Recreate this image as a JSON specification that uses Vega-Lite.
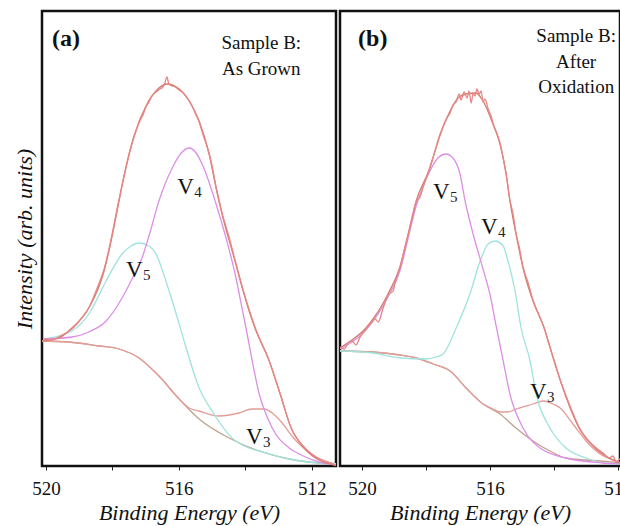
{
  "$schema": "https://vega.github.io/schema/vega-lite/v6.json",
  "padding": {"left": 11, "top": 9, "right": 0, "bottom": 0},
  "background": "white",
  "spacing": 0,
  "config": {
    "view": {"stroke": "#111", "strokeWidth": 2.5},
    "axis": {"grid": false, "domain": false, "tickColor": "#222", "tickSize": 4, "tickWidth": 1,
      "labelFont": "Liberation Serif", "labelFontSize": 19, "labelColor": "#111",
      "titleFont": "Liberation Serif", "titleFontStyle": "italic", "titleFontWeight": "normal", "titleFontSize": 22, "titleColor": "#111"},
    "axisX": {"labelPadding": 9, "titlePadding": 4, "labelFlush": false},
    "axisY": {"titlePadding": 6}
  },
  "datasets": {
    "a": [
      {"c":"bg","e":520.12,"v":125},{"c":"bg","e":519.31,"v":124},{"c":"bg","e":518.40,"v":120},{"c":"bg","e":517.80,"v":117},{"c":"bg","e":517.20,"v":108},{"c":"bg","e":516.60,"v":90},{"c":"bg","e":515.99,"v":67},{"c":"bg","e":515.39,"v":47},{"c":"bg","e":514.49,"v":28},{"c":"bg","e":513.58,"v":15},{"c":"bg","e":512.68,"v":7},{"c":"bg","e":511.78,"v":3},{"c":"bg","e":511.27,"v":2},
      {"c":"V3","e":520.12,"v":125},{"c":"V3","e":519.31,"v":124},{"c":"V3","e":518.40,"v":120},{"c":"V3","e":517.80,"v":117},{"c":"V3","e":517.20,"v":108},{"c":"V3","e":516.60,"v":90},{"c":"V3","e":515.99,"v":67},{"c":"V3","e":515.69,"v":58},{"c":"V3","e":515.39,"v":55},{"c":"V3","e":514.79,"v":50},{"c":"V3","e":514.19,"v":53},{"c":"V3","e":513.80,"v":57},{"c":"V3","e":513.43,"v":57},{"c":"V3","e":513.19,"v":53},{"c":"V3","e":512.89,"v":43},{"c":"V3","e":512.62,"v":31},{"c":"V3","e":512.38,"v":22},{"c":"V3","e":511.87,"v":9},{"c":"V3","e":511.27,"v":2},
      {"c":"V5","e":520.06,"v":127},{"c":"V5","e":519.22,"v":135},{"c":"V5","e":518.71,"v":152},{"c":"V5","e":518.19,"v":185},{"c":"V5","e":517.71,"v":212},{"c":"V5","e":517.44,"v":220},{"c":"V5","e":517.20,"v":223},{"c":"V5","e":516.90,"v":220},{"c":"V5","e":516.69,"v":212},{"c":"V5","e":516.39,"v":185},{"c":"V5","e":516.08,"v":152},{"c":"V5","e":515.78,"v":118},{"c":"V5","e":515.39,"v":78},{"c":"V5","e":515.00,"v":55},{"c":"V5","e":514.40,"v":28},{"c":"V5","e":513.89,"v":18},{"c":"V5","e":513.58,"v":15},{"c":"V5","e":512.68,"v":7},{"c":"V5","e":511.78,"v":3},{"c":"V5","e":511.27,"v":2},
      {"c":"V4","e":520.06,"v":127},{"c":"V4","e":519.22,"v":129},{"c":"V4","e":518.71,"v":134},{"c":"V4","e":518.19,"v":145},{"c":"V4","e":517.71,"v":168},{"c":"V4","e":517.41,"v":187},{"c":"V4","e":517.11,"v":208},{"c":"V4","e":516.90,"v":230},{"c":"V4","e":516.60,"v":265},{"c":"V4","e":516.20,"v":298},{"c":"V4","e":515.93,"v":313},{"c":"V4","e":515.69,"v":318},{"c":"V4","e":515.48,"v":313},{"c":"V4","e":515.30,"v":302},{"c":"V4","e":514.88,"v":262},{"c":"V4","e":514.58,"v":228},{"c":"V4","e":514.28,"v":188},{"c":"V4","e":514.10,"v":158},{"c":"V4","e":513.98,"v":138},{"c":"V4","e":513.58,"v":72},{"c":"V4","e":513.19,"v":38},{"c":"V4","e":512.68,"v":18},{"c":"V4","e":512.38,"v":12},{"c":"V4","e":511.78,"v":4},{"c":"V4","e":511.27,"v":1},
      {"c":"fit","e":520.12,"v":125},{"c":"fit","e":519.61,"v":128},{"c":"fit","e":519.22,"v":138},{"c":"fit","e":518.71,"v":158},{"c":"fit","e":518.25,"v":195},{"c":"fit","e":518.04,"v":225},{"c":"fit","e":517.83,"v":260},{"c":"fit","e":517.62,"v":295},{"c":"fit","e":517.35,"v":330},{"c":"fit","e":516.99,"v":360},{"c":"fit","e":516.69,"v":375},{"c":"fit","e":516.36,"v":382},{"c":"fit","e":515.99,"v":377},{"c":"fit","e":515.69,"v":365},{"c":"fit","e":515.39,"v":345},{"c":"fit","e":515.09,"v":312},{"c":"fit","e":514.88,"v":278},{"c":"fit","e":514.70,"v":252},{"c":"fit","e":514.31,"v":205},{"c":"fit","e":514.04,"v":172},{"c":"fit","e":513.71,"v":138},{"c":"fit","e":513.28,"v":105},{"c":"fit","e":512.95,"v":72},{"c":"fit","e":512.62,"v":38},{"c":"fit","e":512.23,"v":18},{"c":"fit","e":511.72,"v":5},{"c":"fit","e":511.27,"v":1},
      {"c":"data","e":520.12,"v":124},{"c":"data","e":520.00,"v":127},{"c":"data","e":519.85,"v":126},{"c":"data","e":519.67,"v":128},{"c":"data","e":519.46,"v":132},{"c":"data","e":519.22,"v":137},{"c":"data","e":518.95,"v":147},{"c":"data","e":518.70,"v":159},{"c":"data","e":518.46,"v":178},{"c":"data","e":518.25,"v":197},{"c":"data","e":518.04,"v":227},{"c":"data","e":517.83,"v":262},{"c":"data","e":517.62,"v":294},{"c":"data","e":517.47,"v":315},{"c":"data","e":517.35,"v":329},{"c":"data","e":517.20,"v":343},{"c":"data","e":517.08,"v":351},{"c":"data","e":516.99,"v":359},{"c":"data","e":516.90,"v":364},{"c":"data","e":516.81,"v":370},{"c":"data","e":516.69,"v":374},{"c":"data","e":516.57,"v":377},{"c":"data","e":516.48,"v":379},{"c":"data","e":516.42,"v":383},{"c":"data","e":516.36,"v":389},{"c":"data","e":516.30,"v":382},{"c":"data","e":516.20,"v":380},{"c":"data","e":516.11,"v":379},{"c":"data","e":515.99,"v":376},{"c":"data","e":515.87,"v":373},{"c":"data","e":515.75,"v":368},{"c":"data","e":515.63,"v":362},{"c":"data","e":515.51,"v":353},{"c":"data","e":515.39,"v":344},{"c":"data","e":515.27,"v":331},{"c":"data","e":515.09,"v":313},{"c":"data","e":514.97,"v":295},{"c":"data","e":514.88,"v":279},{"c":"data","e":514.70,"v":253},{"c":"data","e":514.49,"v":229},{"c":"data","e":514.31,"v":206},{"c":"data","e":514.04,"v":173},{"c":"data","e":513.71,"v":139},{"c":"data","e":513.28,"v":105},{"c":"data","e":512.95,"v":72},{"c":"data","e":512.62,"v":38},{"c":"data","e":512.23,"v":19},{"c":"data","e":511.72,"v":6},{"c":"data","e":511.27,"v":1}
    ],
    "b": [
      {"c":"bg","e":520.69,"v":115},{"c":"bg","e":519.66,"v":114},{"c":"bg","e":518.81,"v":111},{"c":"bg","e":518.31,"v":108},{"c":"bg","e":517.78,"v":102},{"c":"bg","e":517.25,"v":95},{"c":"bg","e":516.75,"v":78},{"c":"bg","e":516.22,"v":62},{"c":"bg","e":515.69,"v":52},{"c":"bg","e":515.19,"v":38},{"c":"bg","e":514.66,"v":25},{"c":"bg","e":514.13,"v":15},{"c":"bg","e":513.63,"v":8},{"c":"bg","e":512.56,"v":5},{"c":"bg","e":511.84,"v":3},
      {"c":"V3","e":520.69,"v":115},{"c":"V3","e":519.66,"v":114},{"c":"V3","e":518.81,"v":111},{"c":"V3","e":518.31,"v":108},{"c":"V3","e":517.78,"v":102},{"c":"V3","e":517.25,"v":95},{"c":"V3","e":516.75,"v":78},{"c":"V3","e":516.22,"v":62},{"c":"V3","e":515.91,"v":57},{"c":"V3","e":515.69,"v":54},{"c":"V3","e":515.44,"v":54},{"c":"V3","e":515.19,"v":57},{"c":"V3","e":514.66,"v":62},{"c":"V3","e":514.34,"v":65},{"c":"V3","e":514.03,"v":62},{"c":"V3","e":513.81,"v":58},{"c":"V3","e":513.41,"v":42},{"c":"V3","e":513.00,"v":25},{"c":"V3","e":512.56,"v":12},{"c":"V3","e":512.06,"v":5},{"c":"V3","e":511.84,"v":3},
      {"c":"V4","e":520.69,"v":115},{"c":"V4","e":519.66,"v":113},{"c":"V4","e":518.81,"v":108},{"c":"V4","e":518.00,"v":107},{"c":"V4","e":517.69,"v":109},{"c":"V4","e":517.47,"v":112},{"c":"V4","e":517.06,"v":138},{"c":"V4","e":516.63,"v":172},{"c":"V4","e":516.31,"v":205},{"c":"V4","e":516.06,"v":222},{"c":"V4","e":515.84,"v":225},{"c":"V4","e":515.59,"v":220},{"c":"V4","e":515.44,"v":205},{"c":"V4","e":515.22,"v":175},{"c":"V4","e":515.03,"v":138},{"c":"V4","e":514.75,"v":105},{"c":"V4","e":514.56,"v":72},{"c":"V4","e":514.13,"v":38},{"c":"V4","e":513.63,"v":18},{"c":"V4","e":513.00,"v":8},{"c":"V4","e":512.16,"v":2},{"c":"V4","e":511.84,"v":2},
      {"c":"V5","e":520.69,"v":117},{"c":"V5","e":519.88,"v":136},{"c":"V5","e":519.19,"v":169},{"c":"V5","e":518.81,"v":196},{"c":"V5","e":518.56,"v":228},{"c":"V5","e":518.31,"v":260},{"c":"V5","e":518.09,"v":280},{"c":"V5","e":517.88,"v":295},{"c":"V5","e":517.63,"v":308},{"c":"V5","e":517.38,"v":312},{"c":"V5","e":517.16,"v":308},{"c":"V5","e":516.94,"v":292},{"c":"V5","e":516.78,"v":265},{"c":"V5","e":516.53,"v":232},{"c":"V5","e":516.22,"v":197},{"c":"V5","e":516.00,"v":171},{"c":"V5","e":515.81,"v":140},{"c":"V5","e":515.59,"v":105},{"c":"V5","e":515.38,"v":72},{"c":"V5","e":514.97,"v":38},{"c":"V5","e":514.44,"v":18},{"c":"V5","e":513.63,"v":8},{"c":"V5","e":512.47,"v":3},{"c":"V5","e":511.84,"v":2},
      {"c":"fit","e":520.69,"v":118},{"c":"fit","e":520.50,"v":122},{"c":"fit","e":519.88,"v":138},{"c":"fit","e":519.19,"v":172},{"c":"fit","e":518.81,"v":200},{"c":"fit","e":518.56,"v":232},{"c":"fit","e":518.31,"v":265},{"c":"fit","e":517.88,"v":298},{"c":"fit","e":517.56,"v":332},{"c":"fit","e":517.25,"v":355},{"c":"fit","e":517.00,"v":368},{"c":"fit","e":516.75,"v":372},{"c":"fit","e":516.44,"v":373},{"c":"fit","e":516.22,"v":365},{"c":"fit","e":515.91,"v":342},{"c":"fit","e":515.69,"v":322},{"c":"fit","e":515.50,"v":292},{"c":"fit","e":515.38,"v":265},{"c":"fit","e":515.19,"v":232},{"c":"fit","e":514.97,"v":198},{"c":"fit","e":514.66,"v":165},{"c":"fit","e":514.31,"v":138},{"c":"fit","e":514.00,"v":105},{"c":"fit","e":513.66,"v":72},{"c":"fit","e":513.22,"v":38},{"c":"fit","e":512.72,"v":18},{"c":"fit","e":512.09,"v":5},{"c":"fit","e":511.84,"v":2},
      {"c":"data","e":520.69,"v":119},{"c":"data","e":520.56,"v":117},{"c":"data","e":520.44,"v":123},{"c":"data","e":520.31,"v":125},{"c":"data","e":520.19,"v":121},{"c":"data","e":520.06,"v":129},{"c":"data","e":519.88,"v":137},{"c":"data","e":519.72,"v":143},{"c":"data","e":519.59,"v":147},{"c":"data","e":519.50,"v":144},{"c":"data","e":519.34,"v":158},{"c":"data","e":519.19,"v":171},{"c":"data","e":519.03,"v":175},{"c":"data","e":518.97,"v":183},{"c":"data","e":518.81,"v":199},{"c":"data","e":518.69,"v":215},{"c":"data","e":518.56,"v":231},{"c":"data","e":518.44,"v":247},{"c":"data","e":518.31,"v":264},{"c":"data","e":518.19,"v":269},{"c":"data","e":518.09,"v":279},{"c":"data","e":517.88,"v":299},{"c":"data","e":517.72,"v":315},{"c":"data","e":517.56,"v":331},{"c":"data","e":517.47,"v":339},{"c":"data","e":517.34,"v":348},{"c":"data","e":517.25,"v":353},{"c":"data","e":517.16,"v":361},{"c":"data","e":517.06,"v":364},{"c":"data","e":516.97,"v":372},{"c":"data","e":516.91,"v":366},{"c":"data","e":516.81,"v":374},{"c":"data","e":516.72,"v":368},{"c":"data","e":516.66,"v":375},{"c":"data","e":516.59,"v":363},{"c":"data","e":516.53,"v":373},{"c":"data","e":516.47,"v":370},{"c":"data","e":516.41,"v":377},{"c":"data","e":516.34,"v":372},{"c":"data","e":516.28,"v":375},{"c":"data","e":516.22,"v":364},{"c":"data","e":516.16,"v":367},{"c":"data","e":516.06,"v":357},{"c":"data","e":515.97,"v":350},{"c":"data","e":515.91,"v":343},{"c":"data","e":515.78,"v":332},{"c":"data","e":515.69,"v":323},{"c":"data","e":515.59,"v":308},{"c":"data","e":515.50,"v":293},{"c":"data","e":515.38,"v":266},{"c":"data","e":515.28,"v":252},{"c":"data","e":515.19,"v":233},{"c":"data","e":515.09,"v":219},{"c":"data","e":514.97,"v":199},{"c":"data","e":514.81,"v":183},{"c":"data","e":514.66,"v":166},{"c":"data","e":514.47,"v":151},{"c":"data","e":514.31,"v":138},{"c":"data","e":514.16,"v":122},{"c":"data","e":514.00,"v":106},{"c":"data","e":513.84,"v":89},{"c":"data","e":513.66,"v":73},{"c":"data","e":513.44,"v":55},{"c":"data","e":513.22,"v":39},{"c":"data","e":512.97,"v":27},{"c":"data","e":512.72,"v":19},{"c":"data","e":512.47,"v":13},{"c":"data","e":512.28,"v":8},{"c":"data","e":512.16,"v":10},{"c":"data","e":512.06,"v":4},{"c":"data","e":511.94,"v":7},{"c":"data","e":511.84,"v":2}
    ],
    "ta": [
      {"k":"tag","t":"(a)","e":519.82,"v":420},
      {"k":"note","t":"Sample B:","e":513.52,"v":417},
      {"k":"note","t":"As Grown","e":513.52,"v":391},
      {"k":"comp","t":"V","s":"4","e":516.05,"v":272},
      {"k":"comp","t":"V","s":"5","e":517.59,"v":189},
      {"k":"comp","t":"V","s":"3","e":513.98,"v":22}
    ],
    "tb": [
      {"k":"tag","t":"(b)","e":520.125,"v":420},
      {"k":"note","t":"Sample B:","e":513.31,"v":424},
      {"k":"note","t":"After","e":513.31,"v":398},
      {"k":"note","t":"Oxidation","e":513.31,"v":373},
      {"k":"comp","t":"V","s":"5","e":517.78,"v":267},
      {"k":"comp","t":"V","s":"4","e":516.28,"v":232},
      {"k":"comp","t":"V","s":"3","e":514.75,"v":67}
    ]
  },
  "resolve": {"scale": {"x": "independent", "y": "independent", "color": "independent", "strokeWidth": "independent"}},
  "hconcat": [
    {
      "width": 294, "height": 455,
      "layer": [
        {
          "data": {"name": "a"},
          "mark": {"type": "line", "clip": true, "interpolate": "monotone"},
          "encoding": {
            "x": {"field": "e", "type": "quantitative", "scale": {"domain": [511.27, 520.12], "reverse": true, "nice": false, "zero": false},
              "axis": {"values": [512,513,514,515,516,517,518,519,520], "labelExpr": "datum.value % 4 == 0 ? datum.label : ''", "title": "Binding Energy (eV)"}},
            "y": {"field": "v", "type": "quantitative", "scale": {"domain": [0, 455], "nice": false, "zero": false},
              "axis": {"title": "Intensity (arb. units)", "labels": false, "ticks": false}},
            "color": {"field": "c", "type": "nominal", "legend": null,
              "scale": {"domain": ["bg", "V3", "V5", "V4", "fit", "data"], "range": ["#c2a08e", "#e49d98", "#9ee3dc", "#dc8fe4", "#d27d6c", "#e68686"]}},
            "strokeWidth": {"field": "c", "type": "nominal", "legend": null,
              "scale": {"domain": ["bg", "V3", "V5", "V4", "fit", "data"], "range": [1.3, 1.3, 1.3, 1.3, 1.6, 1]}}
          }
        },
        {
          "data": {"name": "ta"},
          "transform": [{"filter": "datum.k == 'tag'"}],
          "mark": {"type": "text", "font": "Liberation Serif", "fontWeight": "bold", "fontSize": 24, "align": "left", "baseline": "alphabetic", "color": "#111"},
          "encoding": {"x": {"field": "e", "type": "quantitative"}, "y": {"field": "v", "type": "quantitative"}, "text": {"field": "t"}}
        },
        {
          "data": {"name": "ta"},
          "transform": [{"filter": "datum.k == 'note'"}],
          "mark": {"type": "text", "font": "Liberation Serif", "fontSize": 19, "align": "center", "baseline": "alphabetic", "color": "#111"},
          "encoding": {"x": {"field": "e", "type": "quantitative"}, "y": {"field": "v", "type": "quantitative"}, "text": {"field": "t"}}
        },
        {
          "data": {"name": "ta"},
          "transform": [{"filter": "datum.k == 'comp'"}],
          "mark": {"type": "text", "font": "Liberation Serif", "fontSize": 23, "align": "left", "baseline": "alphabetic", "color": "#111"},
          "encoding": {"x": {"field": "e", "type": "quantitative"}, "y": {"field": "v", "type": "quantitative"}, "text": {"field": "t"}}
        },
        {
          "data": {"name": "ta"},
          "transform": [{"filter": "datum.k == 'comp'"}],
          "mark": {"type": "text", "font": "Liberation Serif", "fontSize": 15, "align": "left", "baseline": "alphabetic", "color": "#222", "dx": 17, "dy": 3},
          "encoding": {"x": {"field": "e", "type": "quantitative"}, "y": {"field": "v", "type": "quantitative"}, "text": {"field": "s"}}
        }
      ]
    },
    {
      "width": 280, "height": 455,
      "layer": [
        {
          "data": {"name": "b"},
          "mark": {"type": "line", "clip": true, "interpolate": "monotone"},
          "encoding": {
            "x": {"field": "e", "type": "quantitative", "scale": {"domain": [511.94, 520.69], "reverse": true, "nice": false, "zero": false},
              "axis": {"values": [512,513,514,515,516,517,518,519,520], "labelExpr": "datum.value % 4 == 0 ? datum.label : ''", "title": "Binding Energy (eV)"}},
            "y": {"field": "v", "type": "quantitative", "scale": {"domain": [0, 455], "nice": false, "zero": false}, "axis": null},
            "color": {"field": "c", "type": "nominal", "legend": null,
              "scale": {"domain": ["bg", "V3", "V4", "V5", "fit", "data"], "range": ["#c2a08e", "#e49d98", "#9ee3dc", "#dc8fe4", "#d27d6c", "#e68686"]}},
            "strokeWidth": {"field": "c", "type": "nominal", "legend": null,
              "scale": {"domain": ["bg", "V3", "V4", "V5", "fit", "data"], "range": [1.3, 1.3, 1.3, 1.3, 1.6, 1]}}
          }
        },
        {
          "data": {"name": "tb"},
          "transform": [{"filter": "datum.k == 'tag'"}],
          "mark": {"type": "text", "font": "Liberation Serif", "fontWeight": "bold", "fontSize": 24, "align": "left", "baseline": "alphabetic", "color": "#111"},
          "encoding": {"x": {"field": "e", "type": "quantitative"}, "y": {"field": "v", "type": "quantitative"}, "text": {"field": "t"}}
        },
        {
          "data": {"name": "tb"},
          "transform": [{"filter": "datum.k == 'note'"}],
          "mark": {"type": "text", "font": "Liberation Serif", "fontSize": 19, "align": "center", "baseline": "alphabetic", "color": "#111"},
          "encoding": {"x": {"field": "e", "type": "quantitative"}, "y": {"field": "v", "type": "quantitative"}, "text": {"field": "t"}}
        },
        {
          "data": {"name": "tb"},
          "transform": [{"filter": "datum.k == 'comp'"}],
          "mark": {"type": "text", "font": "Liberation Serif", "fontSize": 23, "align": "left", "baseline": "alphabetic", "color": "#111"},
          "encoding": {"x": {"field": "e", "type": "quantitative"}, "y": {"field": "v", "type": "quantitative"}, "text": {"field": "t"}}
        },
        {
          "data": {"name": "tb"},
          "transform": [{"filter": "datum.k == 'comp'"}],
          "mark": {"type": "text", "font": "Liberation Serif", "fontSize": 15, "align": "left", "baseline": "alphabetic", "color": "#222", "dx": 17, "dy": 3},
          "encoding": {"x": {"field": "e", "type": "quantitative"}, "y": {"field": "v", "type": "quantitative"}, "text": {"field": "s"}}
        }
      ]
    }
  ]
}
